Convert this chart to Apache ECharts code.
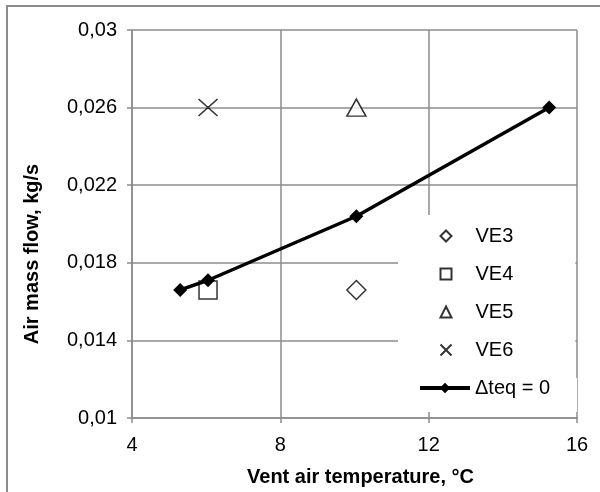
<!DOCTYPE html>
<html>
<head>
<meta charset="utf-8">
<script src="https://cdn.jsdelivr.net/npm/echarts@6/dist/echarts.min.js"></script>
<style>
html,body{margin:0;padding:0;background:#fff;}
#main{width:600px;height:492px;}
</style>
</head>
<body>
<div id="main"></div>
<script>
// 数据
var xTicks = [4, 8, 12, 16];
var yTicks = [0.01, 0.014, 0.018, 0.022, 0.026, 0.03];
var ve3 = [[10.05, 0.0166]];
var ve4 = [[6.05, 0.0166]];
var ve5 = [[10.05, 0.026]];
var ve6 = [[6.05, 0.026]];
var lineX = [5.3, 6.05, 10.05, 15.25];
var lineY = [0.0166, 0.0171, 0.0204, 0.026];

var font = 'Liberation Sans, Arial, sans-serif';
var gray = '#8c8c8c';
var xPath = 'path://M0,0L10,10M10,0L0,10';

var lineData = [];
for (var i = 0; i < lineX.length; i++) {
    lineData.push([lineX[i], lineY[i]]);
}
//逗号小数
var comma = function(val){
    var s = parseFloat(val.toFixed(3)).toString();
    return s.replace('.', ',');
};
var openStyle = { color: '#fff', borderColor: '#000', borderWidth: 1.5 };
var legendText = { fontFamily: font, fontSize: 20, color: '#000', lineHeight: 20 };

var chart = echarts.init(document.getElementById('main'));
var option = {
    backgroundColor: '#fff',
    animation: false,
    graphic: [{
        type: 'rect',
        shape: { x: 7, y: 6, width: 700, height: 600 },
        style: { fill: 'none', stroke: gray, lineWidth: 2 },
        z: 0
    }],
    grid: { left: 132, right: 23, top: 30, bottom: 74 },
    legend: [{
        // 散点图例
        orient: 'vertical',
        left: 398,
        top: 215,
        backgroundColor: '#fff',
        padding: [11, 62, 18, 40],
        itemWidth: 11,
        itemHeight: 11,
        itemGap: 18,
        itemStyle: { borderWidth: 2 },
        textStyle: { fontFamily: font, fontSize: 20, color: '#000', lineHeight: 20, padding: [0, 0, 0, 19] },
        data: ['VE3', 'VE4', 'VE5', 'VE6']
    }, {
        // 折线图例
        orient: 'vertical',
        left: 398,
        top: 378,
        backgroundColor: '#fff',
        padding: [0, 27, 14, 20],
        itemWidth: 50,
        itemHeight: 13,
        lineStyle: { width: 4 },
        textStyle: legendText,
        data: ['Δteq = 0']
    }],
    xAxis: {
        type: 'value',
        min: xTicks[0],
        max: xTicks[xTicks.length - 1],
        interval: 4,
        name: 'Vent air temperature, °C',
        nameLocation: 'middle',
        nameGap: 49,
        nameTextStyle: { fontFamily: font, fontSize: 20, fontWeight: 'bold', color: '#000', padding: [0, 0, 0, 12] },
        axisLine: { lineStyle: { color: gray, width: 1.5 } },
        axisTick: { show: true, length: 5, lineStyle: { color: gray, width: 1.5 } },
        axisLabel: { fontFamily: font, fontSize: 20, color: '#000', margin: 17 },
        splitLine: { lineStyle: { color: gray, width: 1.5 } }
    },
    yAxis: {
        type: 'value',
        min: yTicks[0],
        max: yTicks[yTicks.length - 1],
        interval: 0.004,
        name: 'Air mass flow, kg/s',
        nameLocation: 'middle',
        nameGap: 90,
        nameTextStyle: { fontFamily: font, fontSize: 20, fontWeight: 'bold', color: '#000', padding: [0, 60, 0, 0] },
        axisLine: { show: true, lineStyle: { color: gray, width: 1.5 } },
        axisTick: { show: true, length: 5, lineStyle: { color: gray, width: 1.5 } },
        axisLabel: { fontFamily: font, fontSize: 20, color: '#000', margin: 15, formatter: comma },
        splitLine: { lineStyle: { color: gray, width: 1.5 } }
    },
    series: [
        { name: 'VE3', type: 'scatter', data: ve3, symbol: 'diamond', symbolSize: 19, itemStyle: openStyle },
        { name: 'VE4', type: 'scatter', data: ve4, symbol: 'rect', symbolSize: 18, itemStyle: openStyle },
        { name: 'VE5', type: 'scatter', data: ve5, symbol: 'triangle', symbolSize: [19, 17], itemStyle: openStyle },
        { name: 'VE6', type: 'scatter', data: ve6, symbol: xPath, symbolSize: [19, 17],
          itemStyle: { color: 'none', borderColor: '#000', borderWidth: 1.5 } },
        {
            name: 'Δteq = 0',
            type: 'line',
            data: lineData,
            symbol: 'diamond',
            symbolSize: 14,
            itemStyle: { color: '#000' },
            lineStyle: { color: '#000', width: 3.5 },
            z: 5
        }
    ]
};
chart.setOption(option);
</script>
</body>
</html>
